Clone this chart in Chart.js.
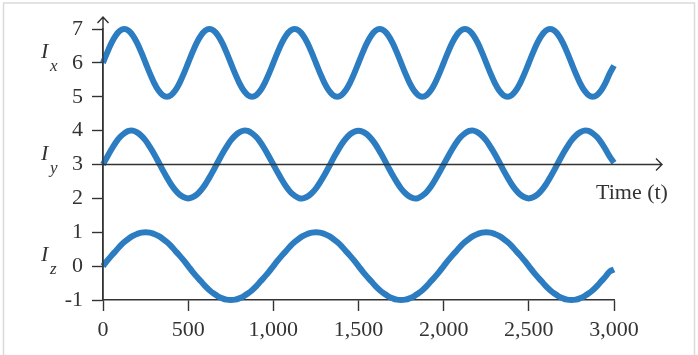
<!DOCTYPE html>
<html>
<head>
<meta charset="utf-8">
<script src="https://cdn.jsdelivr.net/npm/chart.js@4.4.0/dist/chart.umd.min.js"></script>
<style>
  html, body { margin: 0; padding: 0; background: #fff; }
  #wrap { width: 698px; height: 355px; }
</style>
</head>
<body>
<div id="wrap"><canvas id="signalChart" width="698" height="355"></canvas></div>
<script>
// time samples (t)
const time = [0,25,50,75,100,125,150,175,200,225,250,275,300,325,350,375,400,425,450,475,
  500,525,550,575,600,625,650,675,700,725,750,775,800,825,850,875,900,925,950,975,
  1000,1025,1050,1075,1100,1125,1150,1175,1200,1225,1250,1275,1300,1325,1350,1375,1400,1425,1450,1475,
  1500,1525,1550,1575,1600,1625,1650,1675,1700,1725,1750,1775,1800,1825,1850,1875,1900,1925,1950,1975,
  2000,2025,2050,2075,2100,2125,2150,2175,2200,2225,2250,2275,2300,2325,2350,2375,2400,2425,2450,2475,
  2500,2525,2550,2575,2600,2625,2650,2675,2700,2725,2750,2775,2800,2825,2850,2875,2900,2925,2950,2975,
  3000];

// I_x, around 6
const ix = [6,6.31,6.59,6.81,6.95,7,6.95,6.81,6.59,6.31,6,5.69,5.41,5.19,5.05,5,5.05,5.19,5.41,5.69,
  6,6.31,6.59,6.81,6.95,7,6.95,6.81,6.59,6.31,6,5.69,5.41,5.19,5.05,5,5.05,5.19,5.41,5.69,
  6,6.31,6.59,6.81,6.95,7,6.95,6.81,6.59,6.31,6,5.69,5.41,5.19,5.05,5,5.05,5.19,5.41,5.69,
  6,6.31,6.59,6.81,6.95,7,6.95,6.81,6.59,6.31,6,5.69,5.41,5.19,5.05,5,5.05,5.19,5.41,5.69,
  6,6.31,6.59,6.81,6.95,7,6.95,6.81,6.59,6.31,6,5.69,5.41,5.19,5.05,5,5.05,5.19,5.41,5.69,
  6,6.31,6.59,6.81,6.95,7,6.95,6.81,6.59,6.31,6,5.69,5.41,5.19,5.05,5,5.05,5.19,5.41,5.69,
  5.92];

// I_y, around 3
const iy = [3,3.23,3.45,3.65,3.81,3.92,3.99,4,3.95,3.85,3.71,3.52,3.31,3.08,2.84,2.62,2.41,2.24,2.11,2.03,
  2,2.03,2.11,2.24,2.41,2.62,2.84,3.08,3.31,3.52,3.71,3.85,3.95,4,3.99,3.92,3.81,3.65,3.45,3.23,
  3,2.77,2.55,2.35,2.19,2.08,2.01,2,2.05,2.15,2.29,2.48,2.69,2.92,3.16,3.38,3.59,3.76,3.89,3.97,
  4,3.97,3.89,3.76,3.59,3.38,3.16,2.92,2.69,2.48,2.29,2.15,2.05,2,2.01,2.08,2.19,2.35,2.55,2.77,
  3,3.23,3.45,3.65,3.81,3.92,3.99,4,3.95,3.85,3.71,3.52,3.31,3.08,2.84,2.62,2.41,2.24,2.11,2.03,
  2,2.03,2.11,2.24,2.41,2.62,2.84,3.08,3.31,3.52,3.71,3.85,3.95,4,3.99,3.92,3.81,3.65,3.45,3.23,
  3.05];

// I_z, around 0
const iz = [0,0.16,0.31,0.45,0.59,0.71,0.81,0.89,0.95,0.99,1,0.99,0.95,0.89,0.81,0.71,0.59,0.45,0.31,0.16,
  0,-0.16,-0.31,-0.45,-0.59,-0.71,-0.81,-0.89,-0.95,-0.99,-1,-0.99,-0.95,-0.89,-0.81,-0.71,-0.59,-0.45,-0.31,-0.16,
  0,0.16,0.31,0.45,0.59,0.71,0.81,0.89,0.95,0.99,1,0.99,0.95,0.89,0.81,0.71,0.59,0.45,0.31,0.16,
  0,-0.16,-0.31,-0.45,-0.59,-0.71,-0.81,-0.89,-0.95,-0.99,-1,-0.99,-0.95,-0.89,-0.81,-0.71,-0.59,-0.45,-0.31,-0.16,
  0,0.16,0.31,0.45,0.59,0.71,0.81,0.89,0.95,0.99,1,0.99,0.95,0.89,0.81,0.71,0.59,0.45,0.31,0.16,
  0,-0.16,-0.31,-0.45,-0.59,-0.71,-0.81,-0.89,-0.95,-0.99,-1,-0.99,-0.95,-0.89,-0.81,-0.71,-0.59,-0.45,-0.31,-0.16,
  -0.1];

const xTicks = [0, 500, 1000, 1500, 2000, 2500, 3000];
const yTicks = [-1, 0, 1, 2, 3, 4, 5, 6, 7];
const seriesNames = ["x", "y", "z"];
const seriesCenters = [6, 3, 0];

const BLUE = "#2c7cc1";
const INK = "#333333";
const SERIF = "'Liberation Serif', 'DejaVu Serif', serif";

function toPoints(ys) {
  return time.map((t, i) => ({ x: t, y: ys[i] }));
}

const decor = {
  id: "decor",
  beforeDraw(chart) {
    const c = chart.ctx;
    c.save();
    c.fillStyle = "#fff";
    c.fillRect(0, 0, chart.width, chart.height);
    // light frame round the figure
    c.strokeStyle = "#dadada";
    c.lineWidth = 1.5;
    c.beginPath();
    c.moveTo(3.5, 355);
    c.lineTo(3.5, 3);
    c.lineTo(694.5, 3);
    c.lineTo(694.5, 355);
    c.stroke();
    c.restore();
  },
  afterDatasetsDraw(chart) {
    const c = chart.ctx;
    const x = chart.scales.x, y = chart.scales.y;
    const left = x.getPixelForValue(0);
    const bottom = y.getPixelForValue(-1);
    const mid = y.getPixelForValue(3);
    c.save();
    c.strokeStyle = INK;
    c.lineWidth = 1.4;
    // vertical axis with arrow
    c.beginPath();
    c.moveTo(left, bottom);
    c.lineTo(left, 17);
    c.moveTo(left - 5.5, 23);
    c.lineTo(left, 17);
    c.lineTo(left + 5.5, 23);
    c.stroke();
    // time axis at y = 3 with arrow
    c.beginPath();
    c.moveTo(left, mid);
    c.lineTo(662, mid);
    c.moveTo(656, mid - 6);
    c.lineTo(662, mid);
    c.lineTo(656, mid + 6);
    c.stroke();

    c.fillStyle = INK;
    c.textAlign = "left";
    c.textBaseline = "alphabetic";
    c.font = "22px " + SERIF;
    c.fillText("Time (t)", 596, 199);

    seriesNames.forEach((s, i) => {
      const py = y.getPixelForValue(seriesCenters[i]);
      c.font = "italic 22px " + SERIF;
      c.fillText("I", 41, py - 5);
      c.font = "italic 17px " + SERIF;
      c.fillText(s, 50, py + 8);
    });
    c.restore();
  }
};

const ctx = document.getElementById("signalChart").getContext("2d");

new Chart(ctx, {
  type: "line",
  data: {
    datasets: [
      { label: "Ix", data: toPoints(ix) },
      { label: "Iy", data: toPoints(iy) },
      { label: "Iz", data: toPoints(iz) },
    ].map((d) => Object.assign(d, {
      borderColor: BLUE,
      borderWidth: 6,
      pointRadius: 0,
      tension: 0.4,
      fill: false,
      clip: false,
    })),
  },
  options: {
    responsive: false,
    animation: false,
    layout: { padding: { left: 0, top: 29, right: 84, bottom: 0 } },
    plugins: {
      legend: { display: false },
      tooltip: { enabled: false },
    },
    scales: {
      x: {
        type: "linear",
        min: 0,
        max: 3000,
        afterFit: (s) => { s.height = 55; },
        afterBuildTicks: (s) => { s.ticks = xTicks.map((v) => ({ value: v })); },
        grid: { drawOnChartArea: false, drawTicks: true, tickLength: 11, tickColor: INK, tickWidth: 1.4 },
        border: { display: true, color: INK, width: 1.4 },
        ticks: { color: INK, font: { family: SERIF, size: 22 }, padding: 6, maxRotation: 0 },
      },
      y: {
        min: -1,
        max: 7,
        afterFit: (s) => { s.width = 103; },
        afterBuildTicks: (s) => { s.ticks = yTicks.map((v) => ({ value: v })); },
        grid: { drawOnChartArea: false, drawTicks: true, tickLength: 11, tickColor: INK, tickWidth: 1.4 },
        border: { display: true, color: INK, width: 1.4 },
        ticks: { color: INK, font: { family: SERIF, size: 22 }, padding: 9 },
      },
    },
  },
  plugins: [decor],
});
</script>
</body>
</html>
